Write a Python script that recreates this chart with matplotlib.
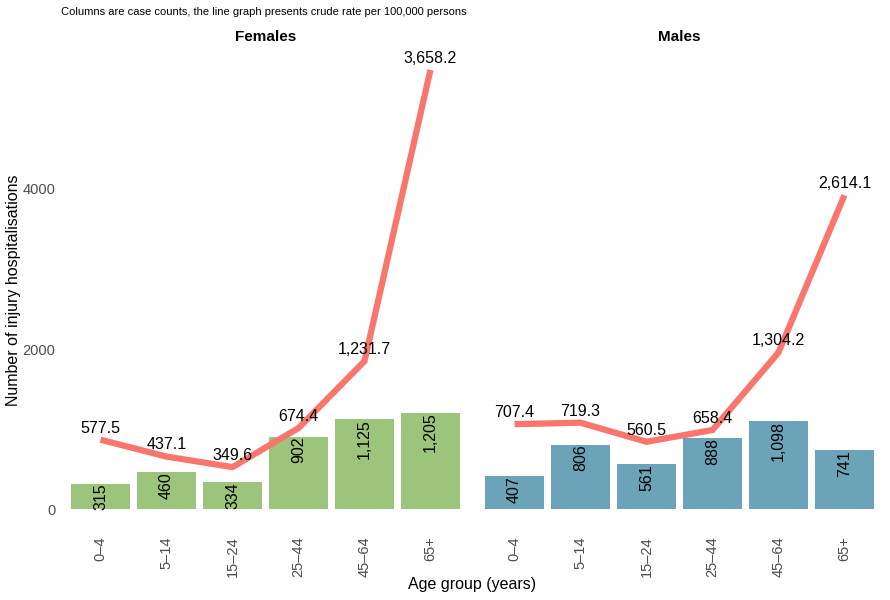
import numpy as np
import matplotlib
matplotlib.use("Agg")
import matplotlib.pyplot as plt

plt.rcParams['font.family'] = ['Liberation Sans', 'DejaVu Sans']

ages = ["0–4", "5–14", "15–24", "25–44", "45–64", "65+"]
sexes = ["Females", "Males"]
counts_f = [315, 460, 334, 902, 1125, 1205]
counts_m = [407, 806, 561, 888, 1098, 741]
rate_f = [577.5, 437.1, 349.6, 674.4, 1231.7, 3658.2]
rate_m = [707.4, 719.3, 560.5, 658.4, 1304.2, 2614.1]
bar_cols = ["#9DC47B", "#6BA4B8"]
line_col = "#F8766D"
scale = 1.5  # rate is drawn on count axis times 1.5

fig = plt.figure(figsize=(8.9, 6), dpi=100)
W, H = 890, 600
panels = [(61, 470), (475, 884)]
ytop, ybot = 48, 531

x = np.arange(1, len(ages) + 1)
ymax = max(max(rate_f), max(rate_m)) * scale
ylo, yhi = -0.05 * ymax, ymax * 1.05

for i, (counts, rates) in enumerate([(counts_f, rate_f), (counts_m, rate_m)]):
    l, r = panels[i]
    ax = fig.add_axes([l / W, 1 - ybot / H, (r - l) / W, (ybot - ytop) / H])
    ax.bar(x, counts, width=0.9, color=bar_cols[i])
    for xi, c in zip(x, counts):
        ax.text(xi, c, f"{c:,}", rotation=90, rotation_mode='anchor',
                ha='right', va='center', fontsize=11.5)
    yr = [v * scale for v in rates]
    ax.plot(x, yr, color=line_col, lw=4.5, solid_joinstyle='miter',
            solid_capstyle='butt', zorder=3)
    for xi, v, rv in zip(x, yr, rates):
        ax.annotate(f"{rv:,.1f}", (xi, v), xytext=(0, 3), textcoords='offset points',
                    ha='center', va='bottom', fontsize=11.5, zorder=4)
    ax.set_xlim(0.4, 6.6)
    ax.set_ylim(ylo, yhi)
    ax.set_xticks(x)
    ax.set_xticklabels(ages, rotation=90, color="#4D4D4D", fontsize=10.5)
    ax.set_yticks([0, 2000, 4000])
    if i == 0:
        ax.set_yticklabels(["0", "2000", "4000"], color="#4D4D4D", fontsize=10.5)
    else:
        ax.set_yticklabels([])
    ax.tick_params(length=0, pad=4)
    for s in ax.spines.values():
        s.set_visible(False)
    ax.text(0.5, 1 + 11 / (ybot - ytop), sexes[i], transform=ax.transAxes,
            ha='center', va='center', fontsize=11, fontweight='bold')

fig.text(61 / W, 1 - 12 / H, "Columns are case counts, the line graph presents crude rate per 100,000 persons",
         ha='left', va='center', fontsize=8)
fig.text(472 / W, 1 - 585 / H, "Age group (years)", ha='center', va='center', fontsize=11.5)
fig.text(14 / W, 1 - 290 / H, "Number of injury hospitalisations", rotation=90,
         ha='center', va='center', fontsize=11.5)

fig.savefig("out.png", dpi=100)
